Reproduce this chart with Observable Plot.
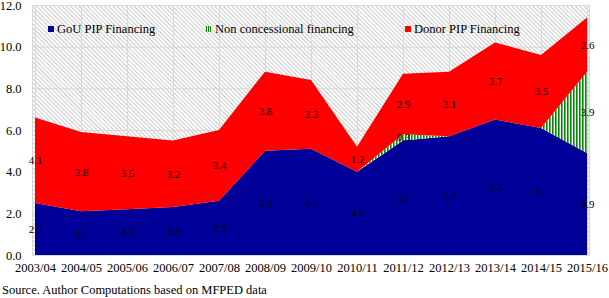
<!DOCTYPE html>
<html>
<head>
<meta charset="utf-8">
<script src="https://cdn.jsdelivr.net/npm/d3@7"></script>
<script src="https://cdn.jsdelivr.net/npm/@observablehq/plot@0.6"></script>
<style>
  body { margin: 0; background: #fff; font-family: "Liberation Serif", "Times New Roman", serif; }
  #wrap { position: relative; width: 609px; height: 298px; }
  .legend { position: absolute; top: 20px; font-size: 12.5px; line-height: 18px; color: #000; white-space: nowrap; }
  .legend .sw { display: inline-block; width: 6px; height: 6px; margin-right: 3px; vertical-align: 1px; }
  #caption { position: absolute; left: 2px; top: 282px; font-size: 12.5px; line-height: 16px; color: #000; }
</style>
</head>
<body>
<div id="wrap">
  <div id="chart"></div>
  <div class="legend" style="left:48px"><span class="sw" style="background:#000099"></span>GoU PIP Financing</div>
  <div class="legend" style="left:206px"><span class="sw" style="background:repeating-linear-gradient(90deg,#008a00 0 1px,#fff 1px 2px)"></span>Non concessional financing</div>
  <div class="legend" style="left:405px"><span class="sw" style="background:#ff0000"></span>Donor PIP Financing</div>
  <div id="caption">Source. Author Computations based on MFPED data</div>
</div>
<script>
const categories = ["2003/04","2004/05","2005/06","2006/07","2007/08","2008/09","2009/10","2010/11","2011/12","2012/13","2013/14","2014/15","2015/16"];
const gouPIP = [2.5, 2.1, 2.2, 2.3, 2.6, 5.0, 5.1, 4.0, 5.5, 5.7, 6.5, 6.1, 4.9];
const nonConcessional = [0, 0, 0, 0, 0, 0, 0, 0, 0.3, 0, 0, 0, 3.9];
const donorPIP = [4.1, 3.8, 3.5, 3.2, 3.4, 3.8, 3.3, 1.2, 2.9, 3.1, 3.7, 3.5, 2.6];
const seriesNames = ["GoU PIP Financing", "Non concessional financing", "Donor PIP Financing"];
const yTicks = [0, 2, 4, 6, 8, 10, 12];

const seriesValues = [gouPIP, nonConcessional, donorPIP];
const data = [];
seriesNames.forEach((s, i) => {
  categories.forEach((c, j) => data.push({series: s, year: c, value: seriesValues[i][j]}));
});

const chart = Plot.plot({
  width: 609,
  height: 276,
  marginLeft: 32,
  marginRight: 20,
  marginTop: 5,
  marginBottom: 21,
  style: {fontFamily: "'Liberation Serif', 'Times New Roman', serif", fontSize: "12.5px", color: "#000", background: "transparent"},
  x: {type: "point", domain: categories, padding: 0, label: null, tickSize: 0, tickPadding: 8},
  y: {domain: [0, 12], ticks: yTicks, tickFormat: d3.format(".1f"), label: null, tickSize: 0, tickPadding: 11},
  color: {domain: seriesNames, range: ["#000099", "url(#ncPattern)", "#ff0000"]},
  marks: [
    Plot.frame({fill: "url(#hatch)"}),
    Plot.gridX(categories, {stroke: "#d9d9d9", strokeOpacity: 1}),
    Plot.gridY(yTicks, {stroke: "#d9d9d9", strokeOpacity: 1}),
    Plot.areaY(data, {x: "year", y: "value", fill: "series", z: "series", order: seriesNames, curve: "linear"}),
    Plot.frame({stroke: "#d9d9d9", strokeOpacity: 1}),
    Plot.text(data, Plot.stackY({
      x: "year", y: "value", z: "series", order: seriesNames,
      text: d => d.value > 0 ? d.value.toFixed(1) : "",
      fill: "#000", fontSize: 11
    }))
  ]
});

const svg = d3.select(chart);
const defs = svg.insert("defs", ":first-child");
const hatch = defs.append("pattern")
  .attr("id", "hatch").attr("patternUnits", "userSpaceOnUse")
  .attr("width", 3).attr("height", 3)
  .attr("patternTransform", "rotate(-45)");
hatch.append("rect").attr("width", 3).attr("height", 3).attr("fill", "#fff");
hatch.append("line").attr("x1", 0.5).attr("y1", 0).attr("x2", 0.5).attr("y2", 3)
  .attr("stroke", "#c4c4c4").attr("stroke-width", 0.9);
const nc = defs.append("pattern")
  .attr("id", "ncPattern").attr("patternUnits", "userSpaceOnUse")
  .attr("width", 3).attr("height", 3);
nc.append("rect").attr("width", 3).attr("height", 3).attr("fill", "#fff");
nc.append("rect").attr("x", 0).attr("width", 1.6).attr("height", 3).attr("fill", "#008a00");

document.getElementById("chart").appendChild(chart);
</script>
</body>
</html>
